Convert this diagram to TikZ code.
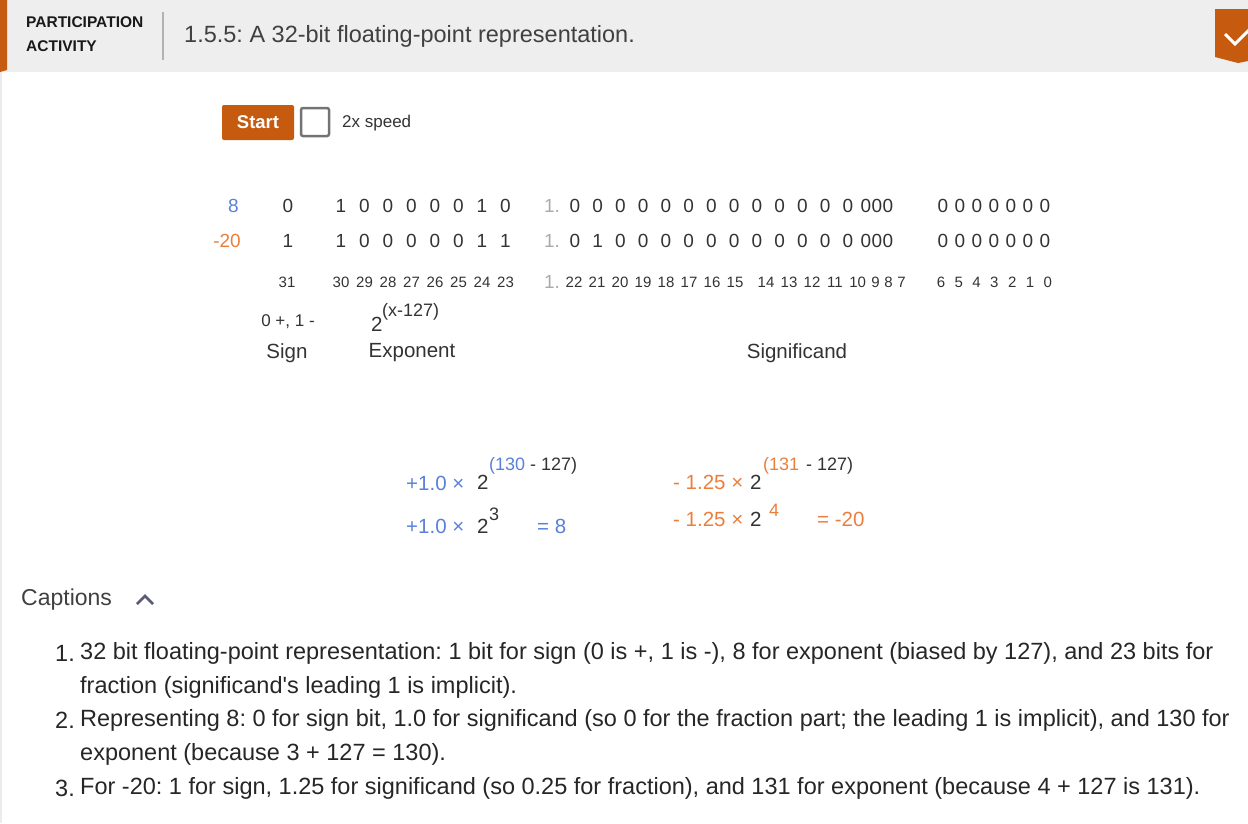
\documentclass[tikz,border=0pt]{standalone}
\usepackage{fontspec}
\setmainfont{Liberation Sans}[Ligatures=TeXOff]
\frenchspacing
\definecolor{zyorange}{HTML}{C65A0E}
\definecolor{numblue}{HTML}{5A80DC}
\definecolor{numorange}{HTML}{EA7F3C}
\definecolor{headgray}{HTML}{EEEEEE}
\definecolor{inkgray}{HTML}{333333}
\definecolor{leadgray}{HTML}{AAAAAA}
\newcommand\fs[1]{\fontsize{#1}{#1}\selectfont}
% x positions of the fraction bits and of their index labels
\newcommand\fracbitxs{575,597.75,620.5,643.25,666,688.75,711.5,734.25,757,779.75,802.5,825.25,848,866,877,888,943,960,977,994,1011,1028,1045}
\newcommand\fracidxxs{574,597,620,643,666,689,712,735,766,789,812,835,857.6,875.5,888.5,901.5,941,958.8,976.6,994.4,1012.2,1030,1047.8}
\begin{document}
\begin{tikzpicture}[x=1pt, y=-1pt]
    \tikzset{every node/.style={inner sep=0pt, text=inkgray},
        bit/.style={font=\fs{19}},
        idx/.style={font=\fs{15}},
        lead/.style={font=\fs{19}, text=leadgray},
        fieldname/.style={font=\fs{20.5}},
        eq/.style={font=\fs{20.5}, anchor=west},
        sup/.style={font=\fs{18}, anchor=west},
        caption/.style={font=\fs{23.5}, text=black!85, anchor=west}}
    \useasboundingbox (0,0) rectangle (1248,823);
    % header
    \fill[headgray] (0,0) rectangle (1248,72);
    \fill[zyorange] (0,0) -- (7,0) -- (7,70) -- (0,72) -- cycle;
    \fill[black!8] (0,72) rectangle (2,823);
    \node[anchor=west, font=\bfseries\fs{15.5}, text=black!90] (part) at (26,22) {PARTICIPATION};
    \node[anchor=west, font=\bfseries\fs{15.5}, text=black!90] (act) at (26,46) {ACTIVITY};
    \draw[black!30, line width=2pt] (163,12) -- (163,60);
    \node[anchor=west, font=\fs{23.5}, text=black!75] (title) at (184,36) {1.5.5: A 32-bit floating-point representation.};
    \fill[zyorange] (1215,9) -- (1248,9) -- (1248,61) -- (1238,63) -- (1215,57) -- cycle;
    \draw[white, line width=3pt] (1225,34) -- (1235,44) -- (1249,30);
    % controls
    \node[fill=zyorange, rounded corners=2pt, minimum width=72pt, minimum height=35pt,
        font=\bfseries\fs{18.5}, text=white] (start) at (258,122.5) {Start};
    \draw[black!55, line width=2.5pt, rounded corners=2pt] (301,108) rectangle (329,136);
    \node[anchor=west, font=\fs{17}] (speed) at (342,123) {2x speed};
    % values
    \node[bit, anchor=east, text=numblue] (eight) at (239,206) {8};
    \node[bit, anchor=east, text=numorange] (minus) at (241,241) {-20};
    \node[bit] (s1) at (288,206) {0};
    \node[bit] (s2) at (288,241) {1};
    \node[idx] (si) at (287,282) {31};
    \foreach \xx/\a/\b/\n [count=\i] in {341/1/1/30,364.5/0/0/29,388/0/0/28,411.5/0/0/27,435/0/0/26,458.5/0/0/25,482/1/1/24,505.5/0/1/23} {
        \node[bit] (e1-\i) at (\xx,206) {\a};
        \node[bit] (e2-\i) at (\xx,241) {\b};
        \node[idx] (ei-\i) at (\xx,282) {\n};
    }
    \node[lead] (l1) at (552,206) {1.};
    \node[lead] (l2) at (552,241) {1.};
    \node[lead] (li) at (552,282) {1.};
    \foreach \xx [count=\i from 0] in \fracbitxs {
        \pgfmathtruncatemacro\b{\i==1 ? 1 : 0}
        \node[bit] (f1-\i) at (\xx,206) {0};
        \node[bit] (f2-\i) at (\xx,241) {\b};
    }
    \foreach \xx [count=\i from 0] in \fracidxxs {
        \pgfmathtruncatemacro\n{22-\i}
        \node[idx] (fi-\i) at (\xx,282) {\n};
    }
    \node[font=\fs{17}] (signrule) at (288,322) {0 +, 1 -};
    \node[eq] (two) at (371,324) {2};
    \node[sup] (bias) at (382,312) {(x-127)};
    \node[fieldname] (sign) at (287,353) {Sign};
    \node[fieldname] (exp) at (412,353) {Exponent};
    \node[fieldname] (sig) at (797,353) {Significand};
    % worked examples
    \node[eq, text=numblue] (p1) at (406,483) {+1.0 ×};
    \node[eq] (p2) at (477,482) {2};
    \node[sup, text=numblue] (p3) at (489,466) {(130};
    \node[sup] (p4) at (530,466) {- 127)};
    \node[eq, text=numblue] (q1) at (406,526) {+1.0 ×};
    \node[eq] (q2) at (477,526) {2};
    \node[sup] (q3) at (489,514) {3};
    \node[eq, text=numblue] (q4) at (537,526) {= 8};
    \node[eq, text=numorange] (m1) at (673,482) {- 1.25 ×};
    \node[eq] (m2) at (750,482) {2};
    \node[sup, text=numorange] (m3) at (763,466) {(131};
    \node[sup] (m4) at (806,466) {- 127)};
    \node[eq, text=numorange] (n1) at (673,519) {- 1.25 ×};
    \node[eq] (n2) at (750,519) {2};
    \node[sup, text=numorange] (n3) at (769,510) {4};
    \node[eq, text=numorange] (n4) at (817,519) {= -20};
    % captions
    \node[anchor=west, font=\fs{23}, text=black!75] (caps) at (21,600) {Captions};
    \draw[black!60!blue!30!gray, line width=2.5pt] (137,604) -- (145,596) -- (153,604);
    \node[caption, anchor=east] (c1n) at (75,653) {1.};
    \node[caption] (c1) at (80,653) {32 bit floating-point representation: 1 bit for sign (0 is +, 1 is -), 8 for exponent (biased by 127), and 23 bits for};
    \node[caption] (c1b) at (80,687) {fraction (significand's leading 1 is implicit).};
    \node[caption, anchor=east] (c2n) at (75,720) {2.};
    \node[caption] (c2) at (80,720) {Representing 8: 0 for sign bit, 1.0 for significand (so 0 for the fraction part; the leading 1 is implicit), and 130 for};
    \node[caption] (c2b) at (80,754) {exponent (because 3 + 127 = 130).};
    \node[caption, anchor=east] (c3n) at (75,788) {3.};
    \node[caption] (c3) at (80,788) {For -20: 1 for sign, 1.25 for significand (so 0.25 for fraction), and 131 for exponent (because 4 + 127 is 131).};
\end{tikzpicture}
\end{document}
